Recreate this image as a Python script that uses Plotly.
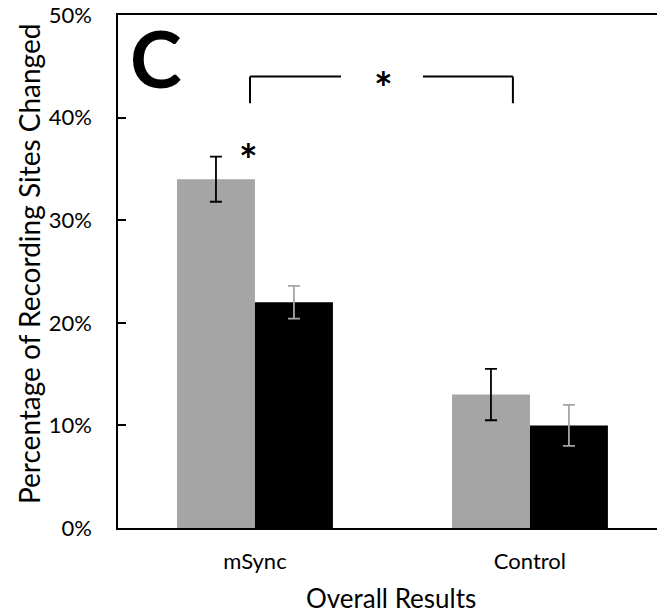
import plotly.graph_objects as go

categories = ["mSync", "Control"]
series_gray = [34, 13]
series_gray_err = [2.2, 2.5]
series_black = [22, 10]
series_black_err = [1.6, 2.0]
y_ticks = [0, 10, 20, 30, 40, 50]

FONT = "Lato"
xpos = list(range(len(categories)))

fig = go.Figure()
fig.add_trace(go.Bar(
    x=xpos, y=series_gray, marker=dict(color="#a5a5a5", line=dict(width=0)),
    error_y=dict(type="data", array=series_gray_err, color="#000000", thickness=1.8, width=6),
    showlegend=False))
fig.add_trace(go.Bar(
    x=xpos, y=series_black, marker=dict(color="#000000", line=dict(width=0)),
    error_y=dict(type="data", array=series_black_err, color="#a5a5a5", thickness=1.8, width=6),
    showlegend=False))

fig.update_layout(
    width=657, height=615,
    margin=dict(l=118, r=0, t=15, b=87),
    paper_bgcolor="white", plot_bgcolor="white",
    barmode="group", bargap=0.433, bargroupgap=0,
    font=dict(family=FONT, color="#000000"),
)
fig.update_xaxes(
    range=[-0.498, 1.462], tickvals=xpos, ticktext=categories,
    showline=True, linecolor="#000000", linewidth=2, mirror=True,
    showgrid=False, zeroline=False, ticks="",
    tickfont=dict(size=22, family=FONT), ticklabelstandoff=13,
)
fig.update_yaxes(
    range=[0, 50], tickvals=y_ticks, ticktext=[f"{v}%" for v in y_ticks],
    showline=True, linecolor="#000000", linewidth=1.5,
    showgrid=False, zeroline=False,
    ticks="inside", ticklen=8, tickwidth=1.5, tickcolor="#000000",
    tickfont=dict(size=22, family=FONT), ticklabelstandoff=20,
)

# axis titles
fig.add_annotation(text="Overall Results", xref="paper", yref="paper",
                   x=(391 - 118) / 539, y=(528 - 598) / 513, showarrow=False,
                   font=dict(size=26, family=FONT), xanchor="center", yanchor="middle")
fig.add_annotation(text="Percentage of Recording Sites Changed", xref="paper", yref="paper",
                   x=(29 - 118) / 539, y=(528 - 264) / 513, showarrow=False, textangle=-90,
                   font=dict(size=28, family=FONT), xanchor="center", yanchor="middle")

# panel letter
fig.add_annotation(text="<b>C</b>", xref="paper", yref="paper",
                   x=(156 - 118) / 539, y=(528 - 58) / 513, showarrow=False,
                   font=dict(size=78, family=FONT), xanchor="center", yanchor="middle")

# significance bracket
line = dict(color="#000000", width=2)
fig.add_shape(type="line", x0=-0.018, x1=-0.018, y0=41.4, y1=44.0, line=line)
fig.add_shape(type="line", x0=-0.018, x1=0.313, y0=44.0, y1=44.0, line=line)
fig.add_shape(type="line", x0=0.611, x1=0.938, y0=44.0, y1=44.0, line=line)
fig.add_shape(type="line", x0=0.938, x1=0.938, y0=41.4, y1=44.0, line=line)
fig.add_annotation(text="<b>*</b>", x=0.469, y=43.0, showarrow=False,
                   font=dict(size=44, family=FONT), xanchor="center", yanchor="middle")
fig.add_annotation(text="<b>*</b>", x=-0.022, y=36.0, showarrow=False,
                   font=dict(size=44, family=FONT), xanchor="center", yanchor="middle")

fig.write_html("out.html")
